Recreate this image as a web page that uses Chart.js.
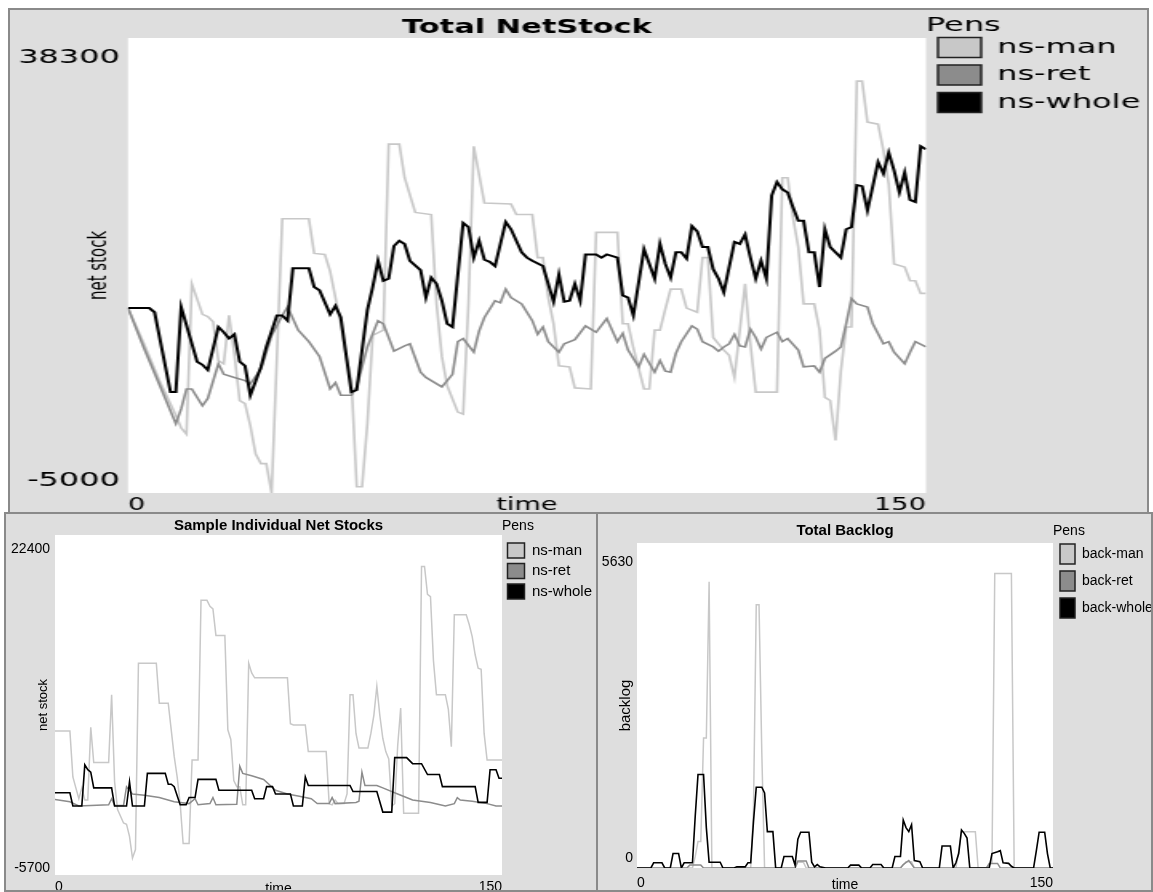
<!DOCTYPE html>
<html><head><meta charset="utf-8">
<script src="https://cdn.jsdelivr.net/npm/chart.js@4.4.1/dist/chart.umd.min.js"></script>
<style>
html,body{margin:0;padding:0;background:#fff;width:1153px;height:892px;overflow:hidden;}
.panel{position:absolute;background:#dedede;border:2px solid #8a8a8a;box-sizing:border-box;overflow:hidden;}
.wrap{position:absolute;left:0;top:0;transform-origin:0 0;}
canvas{display:block;}
</style></head><body>
<div class="panel" style="left:8px;top:8px;width:1141px;height:540px;"><div class="wrap" id="wTop"><canvas id="cTop"></canvas></div></div>
<div class="panel" style="left:4px;top:512px;width:594px;height:380px;"><div class="wrap"><canvas id="cBL"></canvas></div></div>
<div class="panel" style="left:596px;top:512px;width:557px;height:380px;"><div class="wrap"><canvas id="cBR"></canvas></div></div>
<script>
const SANS = "'Liberation Sans', Arial, sans-serif";
const WIDE = "'DejaVu Sans', Verdana, sans-serif";

// ---------------- data ----------------
const timeTicks = [0, 150];
const topYTicks = [-5000, 38300];
const blYTicks = [-5700, 22400];
const brYTicks = [0, 5630];
const nsLabels = ['ns-man', 'ns-ret', 'ns-whole'];
const backLabels = ['back-man', 'back-ret', 'back-whole'];

// Total NetStock  [time, value]
const topMan = [[0,12600],[3,9200],[6,5600],[9,2400],[10,1200],[11,600],[12,14900],[14,12000],[15,11800],[16,11300],[17,7600],[18,7300],[19,11900],[20,8200],[21,3800],[22,3500],[23,1400],[24,-1300],[25,-2200],[26,-2200],[27,-5000],[29,21100],[34,21100],[35,17800],[37,17700],[38,16100],[40,11100],[41,8000],[42,5700],[43,-4400],[44,-4400],[45,1600],[46,10000],[48,10500],[49,28200],[51,28200],[52,25000],[54,21700],[57,21500],[58,13000],[59,8000],[60,5200],[62,2700],[63,2500],[64,13000],[65,28000],[66,25300],[67,22600],[72,22500],[73,21500],[76,21500],[77,17400],[78,17400],[79,13600],[80,11100],[81,7100],[83,7000],[84,5000],[87,4900],[88,19800],[92,19800],[93,11100],[94,11100],[95,8800],[97,4900],[98,4900],[99,10500],[100,10500],[101,12500],[102,14400],[104,14400],[105,12600],[107,12200],[108,17400],[109,17400],[110,9800],[111,9200],[112,8600],[113,8100],[114,6000],[116,14900],[117,9200],[118,4600],[122,4600],[123,25000],[124,25000],[125,21200],[126,18400],[127,13000],[129,13000],[130,10500],[131,4100],[132,3800],[133,0],[134,6600],[135,10800],[136,10800],[137,34200],[138,34200],[139,30300],[141,30100],[142,27600],[143,24400],[144,16800],[146,16500],[147,15200],[148,15200],[149,14000],[150,14000]];
const topRet = [[0,12600],[3,8800],[6,5200],[9,1600],[10,3000],[11,4900],[12,4900],[14,3300],[15,4000],[17,7300],[18,6300],[20,6000],[22,5700],[23,5400],[25,6800],[27,10000],[29,11900],[30,12700],[32,10500],[34,9400],[36,8000],[38,4900],[39,5500],[40,4300],[42,4300],[43,5100],[45,8900],[47,11400],[48,11100],[50,8500],[52,9000],[53,9200],[55,6500],[56,6000],[59,5100],[60,5700],[61,6300],[62,9400],[63,9700],[65,8400],[66,10400],[67,11700],[69,13300],[70,13100],[71,14400],[72,13600],[74,13000],[76,11400],[77,10100],[78,10800],[79,9400],[81,8400],[82,9200],[84,9600],[86,10900],[87,10600],[88,10300],[90,11600],[92,9400],[93,10200],[94,8600],[96,7000],[97,8200],[99,6500],[100,7600],[101,6600],[102,6500],[103,8300],[104,9400],[106,10900],[107,10600],[108,9400],[110,8900],[111,8500],[112,8900],[113,9200],[114,10100],[115,9000],[116,8900],[117,10600],[118,9800],[119,8700],[120,9800],[122,10300],[123,9400],[124,9700],[126,8600],[127,7000],[129,7100],[130,6500],[131,7800],[133,8500],[134,8900],[135,11100],[136,13500],[137,13000],[139,12700],[140,11100],[142,9200],[143,9400],[144,8400],[146,7300],[147,8400],[148,9400],[150,8900]];
const topWhole = [[0,12600],[4,12600],[5,12200],[8,4600],[9,4600],[10,12700],[13,7500],[14,7200],[15,6700],[17,10800],[18,10300],[19,9700],[20,10100],[21,7500],[22,7100],[23,4300],[25,7000],[26,8900],[28,11900],[29,11900],[30,11400],[31,16400],[34,16400],[35,14600],[36,14300],[38,12000],[39,12800],[40,11700],[42,4600],[43,4800],[45,12400],[46,14600],[47,17100],[48,15200],[49,15400],[50,18500],[51,19000],[52,18700],[53,17100],[55,16200],[56,13600],[57,15500],[58,14900],[59,13300],[60,11100],[61,10800],[63,20700],[64,20300],[65,17400],[66,19000],[67,17200],[68,17000],[69,16600],[71,20800],[72,20100],[74,17900],[75,17400],[76,17100],[78,16600],[80,13200],[81,15800],[82,13200],[83,13300],[84,14900],[85,13300],[86,17700],[88,17700],[89,17400],[90,17700],[92,17400],[93,13800],[94,13600],[95,11900],[97,18200],[99,15400],[100,18700],[101,16800],[102,15500],[103,17900],[104,17900],[105,17300],[106,20400],[107,19900],[108,18400],[109,18400],[110,16300],[111,15400],[112,14100],[114,18900],[115,18700],[116,19600],[117,17400],[118,15400],[119,17100],[120,15400],[121,23300],[122,24600],[123,23900],[124,23600],[125,22200],[126,20900],[127,20900],[128,17900],[129,17900],[130,14600],[131,20100],[132,18400],[134,17400],[135,20100],[136,20300],[137,24300],[138,24200],[139,21900],[141,26500],[142,25400],[143,27400],[144,25700],[145,23600],[146,25500],[147,22900],[148,22700],[149,28000],[150,27700]];

// Sample Individual Net Stocks  [time, value]
const blMan = [[0,6200],[5,6200],[6,2400],[7,1500],[8,600],[9,1500],[10,500],[11,500],[12,6500],[13,3600],[18,3600],[19,9200],[20,2000],[21,-300],[23,-1400],[24,-1500],[25,-2500],[26,-4300],[27,-3600],[28,11800],[34,11800],[35,8500],[38,8500],[40,4100],[41,2400],[42,200],[43,-3100],[45,-3100],[46,3800],[48,3800],[49,17000],[51,17000],[52,16500],[53,16300],[54,14100],[57,14100],[58,6300],[59,5500],[60,2100],[61,1600],[62,1600],[63,100],[64,100],[65,11800],[66,11000],[67,10600],[78,10600],[79,6800],[80,6700],[84,6700],[85,4500],[91,4500],[92,200],[93,100],[94,500],[95,200],[97,200],[98,1000],[99,9200],[100,9200],[101,6000],[102,4800],[105,4800],[106,6000],[107,7500],[108,9900],[109,7500],[110,5600],[111,4500],[112,3900],[113,0],[114,200],[115,5000],[116,8100],[117,-600],[122,-600],[123,19800],[124,19800],[125,17500],[126,17300],[127,12000],[128,9200],[131,9200],[132,8000],[133,4900],[134,15800],[138,15800],[139,15000],[140,14000],[141,12500],[142,11400],[143,11300],[144,6000],[145,3800],[150,3800]];
const blRet = [[0,550],[5,350],[8,0],[18,100],[19,600],[20,50],[23,50],[24,1600],[26,1000],[30,900],[35,700],[40,350],[45,200],[47,600],[48,100],[52,200],[53,700],[54,100],[61,150],[62,3300],[63,2700],[66,2500],[70,2200],[74,1300],[78,1000],[82,800],[86,600],[88,200],[92,200],[93,700],[94,200],[101,300],[102,400],[103,2800],[104,1700],[108,1700],[110,1500],[115,1000],[120,500],[126,300],[131,0],[134,200],[135,700],[136,500],[140,400],[145,200],[148,0],[150,0]];
const blWhole = [[0,1100],[5,1100],[6,0],[9,0],[10,3400],[11,3000],[12,2800],[13,1500],[19,1500],[20,0],[24,0],[25,2000],[26,0],[30,0],[31,2700],[37,2700],[38,1800],[39,1800],[40,1600],[42,100],[44,100],[45,700],[47,700],[48,2200],[54,2200],[55,1300],[66,1300],[67,600],[70,600],[71,1600],[73,1600],[74,1000],[79,1000],[80,0],[83,0],[84,2400],[85,1700],[99,1700],[100,1200],[108,1200],[110,-500],[113,-500],[114,4000],[118,4000],[120,3500],[123,3500],[125,2600],[129,2600],[130,1600],[141,1600],[142,300],[145,300],[146,3000],[148,3000],[149,2300],[150,2300]];

// Total Backlog  [time, value]
const brMan = [[0,0],[20,0],[21,200],[22,460],[23,460],[24,2250],[25,2250],[26,4960],[27,0],[41,0],[42,1000],[43,4560],[44,4560],[45,2000],[46,0],[57,0],[58,100],[60,100],[61,0],[95,0],[96,50],[97,110],[99,110],[100,0],[115,0],[116,300],[117,630],[122,630],[123,0],[126,0],[127,50],[128,100],[129,5100],[135,5100],[136,0],[150,0]];
const brRet = [[0,0],[18,0],[19,50],[23,50],[24,0],[57,0],[58,120],[61,120],[62,0],[95,0],[96,60],[98,130],[100,0],[126,0],[127,80],[130,80],[131,0],[150,0]];
const brWhole = [[0,0],[5,0],[6,90],[9,90],[10,0],[12,0],[13,250],[15,250],[16,0],[17,90],[20,90],[21,900],[22,1620],[24,1620],[25,700],[26,100],[30,100],[31,0],[35,0],[36,20],[39,20],[40,90],[41,90],[42,800],[43,1400],[45,1400],[46,1300],[47,630],[49,630],[50,0],[52,0],[53,200],[56,200],[57,50],[58,500],[59,620],[62,620],[63,100],[64,20],[65,60],[66,20],[68,0],[76,0],[77,50],[80,50],[81,0],[84,0],[85,60],[88,60],[89,0],[92,0],[93,200],[95,200],[96,830],[97,700],[98,630],[99,750],[100,130],[102,110],[103,0],[109,0],[110,380],[113,380],[114,0],[115,90],[116,250],[117,660],[118,600],[119,520],[120,0],[127,0],[128,250],[130,280],[131,300],[132,90],[134,80],[135,30],[136,0],[143,0],[144,300],[145,620],[147,620],[148,250],[149,0],[150,0]];

const penColors = ['#c8c8c8', '#8c8c8c', '#000000'];

// ---------------- chart builder ----------------
function build(id, o) {
  const cv = document.getElementById(id);
  cv.width = o.w; cv.height = o.h;
  cv.style.width = o.w + 'px'; cv.style.height = o.h + 'px';
  const F = o.family;
  const datasets = o.series.map((s, i) => ({
    label: o.labels[i],
    data: s.map(p => ({x: p[0], y: p[1]})),
    borderColor: penColors[i],
    backgroundColor: penColors[i],
    borderWidth: o.lw[i],
    pointRadius: 0, tension: 0, fill: false,
    order: 3 - i
  }));
  const bg = {
    id: 'bg',
    beforeDraw(c) {
      const {ctx, chartArea: a} = c;
      ctx.save();
      ctx.fillStyle = '#dedede'; ctx.fillRect(0, 0, c.width, c.height);
      ctx.fillStyle = '#ffffff'; ctx.fillRect(a.left, a.top, a.right - a.left, a.bottom - a.top);
      ctx.restore();
    }
  };
  const fixLegend = {
    id: 'fixLegend',
    afterInit(c) {
      const lg = c.legend; const f = lg.fit.bind(lg);
      lg.fit = function () { f(); this.width = o.legendW; };
    }
  };
  const noPad = s => { s.paddingTop = 0; s.paddingBottom = 0; s.paddingLeft = 0; s.paddingRight = 0; };
  return new Chart(cv, {
    type: 'line',
    data: {datasets},
    options: {
      responsive: false, animation: false, events: [],
      layout: {padding: 0},
      plugins: {
        title: {display: true, text: o.title, fullSize: false, color: '#000',
          font: {family: F, size: o.titleSize, weight: 'bold', lineHeight: 1.2}, padding: o.titlePad},
        legend: {position: 'right', align: 'start',
          title: {display: true, text: 'Pens', position: 'start', color: '#000',
            font: {family: F, size: o.legTitleSize, lineHeight: o.legTitleLH}, padding: {top: o.legTitlePT, bottom: 0}},
          labels: {color: '#000', font: {family: F, size: o.legSize}, boxWidth: o.boxW, boxHeight: o.boxH, padding: o.legPad,
            sort: (a, b) => a.datasetIndex - b.datasetIndex,
            generateLabels: (chart) => Chart.defaults.plugins.legend.labels.generateLabels(chart).map(it => Object.assign(it, {strokeStyle: '#222', lineWidth: o.boxLW, fillStyle: penColors[it.datasetIndex]}))}
        },
        tooltip: {enabled: false}
      },
      scales: {
        x: {type: 'linear', min: 0, max: 150,
          grid: {display: false, drawTicks: false}, border: {display: false},
          afterBuildTicks: s => { s.ticks = timeTicks.map(v => ({value: v})); },
          afterFit: s => { s.height = o.xH; noPad(s); },
          ticks: {align: 'inner', maxRotation: 0, padding: o.xTickPad, color: '#000', font: {family: F, size: o.xTickSize}, callback: v => String(v)},
          title: {display: true, text: 'time', color: '#000', font: {family: F, size: o.xTitleSize}, padding: {top: 0, bottom: o.xTitlePB}}
        },
        y: {type: 'linear', min: o.yTicks[0], max: o.yTicks[1],
          grid: {display: false, drawTicks: false}, border: {display: false},
          afterBuildTicks: s => { s.ticks = o.yTicks.map(v => ({value: v})); },
          afterFit: s => { s.width = o.yW; noPad(s); },
          ticks: {padding: o.yTickPad, color: '#000',
            font: ctx => ({family: F, size: o.yTickSize, lineHeight: ((ctx.index === 0 ? o.shiftBottom : o.shiftTop) * 2) + 'px'}),
            callback: (v, i) => i === 0 ? [String(v), ''] : ['', String(v)]},
          title: {display: true, text: o.yTitle, color: '#000', font: {family: F, size: o.yTitleSize}, padding: {top: o.yTitlePT, bottom: 0}}
        }
      }
    },
    plugins: [bg, fixLegend]
  });
}

// ---------- top panel (horizontally stretched like the original screenshot) ----------
const SX = 1.6;
document.getElementById('wTop').style.transform = 'scale(' + SX + ',1)';
const topW = Math.round(1137 / SX);
build('cTop', {
  family: WIDE, w: topW, h: 540, series: [topMan, topRet, topWhole], labels: nsLabels, lw: [1.6, 1.6, 2.0],
  title: 'Total NetStock', titleSize: 19, titlePad: {top: 7, bottom: -1.8},
  legendW: topW - (926 - 10) / SX, legTitleSize: 20, legTitleLH: '14px', legTitlePT: 6,
  legSize: 20, boxW: 27, boxH: 20, legPad: 7.5, boxLW: 1.5,
  xH: 540 - 483, xTickPad: 2.8, xTickSize: 17, xTitleSize: 17, xTitlePB: 33.8,
  yTicks: topYTicks, yTickSize: 20, yW: (128 - 10) / SX, yTickPad: 5, shiftTop: 20, shiftBottom: 12,
  yTitle: 'net stock', yTitleSize: 15, yTitlePT: 47
});

// ---------- bottom-left panel ----------
build('cBL', {
  family: SANS, w: 588, h: 400, series: [blMan, blRet, blWhole], labels: nsLabels, lw: [1.5, 1.5, 1.6],
  title: 'Sample Individual Net Stocks', titleSize: 15, titlePad: {top: 3, bottom: 0},
  legendW: 588 - 496, legTitleSize: 14, legTitleLH: '18.5px', legTitlePT: 5,
  legSize: 15, boxW: 17, boxH: 15, legPad: 5.5, boxLW: 1.5,
  xH: 400 - 361, xTickPad: 4, xTickSize: 14, xTitleSize: 14, xTitlePB: 16.6,
  yTicks: blYTicks, yTickSize: 14, yW: 49, yTickPad: 5, shiftTop: 14, shiftBottom: 7,
  yTitle: 'net stock', yTitleSize: 13, yTitlePT: 30
});

// ---------- bottom-right panel ----------
build('cBR', {
  family: SANS, w: 553, h: 400, series: [brMan, brRet, brWhole], labels: backLabels, lw: [1.5, 1.5, 1.6],
  title: 'Total Backlog', titleSize: 15, titlePad: {top: 8, bottom: 3},
  legendW: 553 - 455, legTitleSize: 14, legTitleLH: '13px', legTitlePT: 10,
  legSize: 14, boxW: 15, boxH: 20, legPad: 7, boxLW: 1.5,
  xH: 400 - 354, xTickPad: 6.6, xTickSize: 14, xTitleSize: 14, xTitlePB: 20.6,
  yTicks: brYTicks, yTickSize: 14, yW: 39, yTickPad: 4, shiftTop: 19, shiftBottom: 10,
  yTitle: 'backlog', yTitleSize: 15, yTitlePT: 19
});
</script>
</body></html>
